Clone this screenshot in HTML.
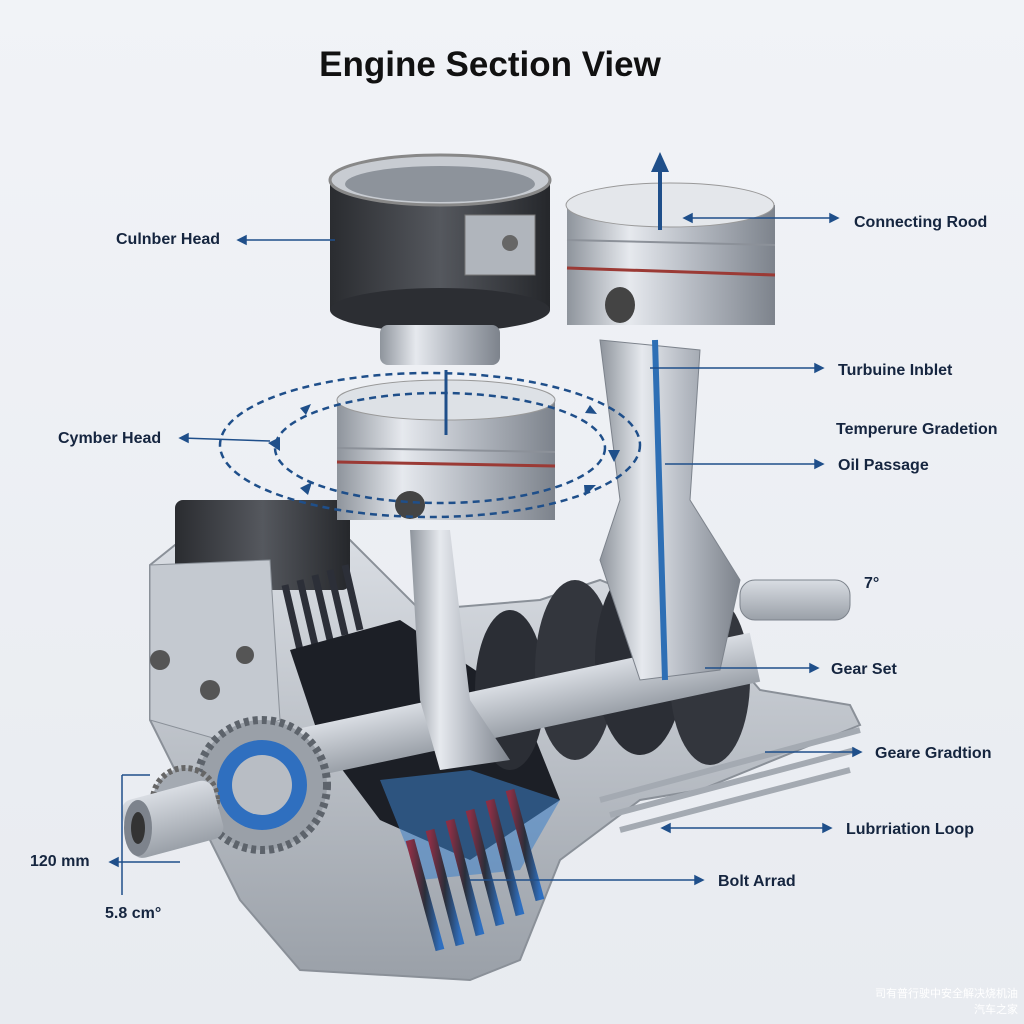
<!DOCTYPE html>
<html><head><meta charset="utf-8"><style>
html,body{margin:0;padding:0;background:#eef0f5;}
svg{display:block}
text{font-family:"Liberation Sans","Noto Sans CJK SC",sans-serif;}
</style></head><body>
<svg width="1024" height="1024" viewBox="0 0 1024 1024" xmlns="http://www.w3.org/2000/svg">
<defs>
<linearGradient id="bg" x1="0" y1="0" x2="0" y2="1"><stop offset="0" stop-color="#f1f3f7"/><stop offset="1" stop-color="#e8ebf0"/></linearGradient>
<linearGradient id="silver" x1="0" y1="0" x2="1" y2="0"><stop offset="0" stop-color="#8e949c"/><stop offset="0.3" stop-color="#e6e9ee"/><stop offset="0.6" stop-color="#b6bbc3"/><stop offset="1" stop-color="#7d838c"/></linearGradient>
<linearGradient id="silverV" x1="0" y1="0" x2="0" y2="1"><stop offset="0" stop-color="#d9dde3"/><stop offset="1" stop-color="#9aa0a8"/></linearGradient>
<linearGradient id="carbon" x1="0" y1="0" x2="1" y2="0"><stop offset="0" stop-color="#2a2c30"/><stop offset="0.5" stop-color="#55585e"/><stop offset="1" stop-color="#25272b"/></linearGradient>
<linearGradient id="fins" x1="0" y1="0" x2="1" y2="0"><stop offset="0" stop-color="#8a2f45"/><stop offset="0.5" stop-color="#2a2f3a"/><stop offset="1" stop-color="#2f6fbf"/></linearGradient>
</defs>
<rect width="1024" height="1024" fill="url(#bg)"/>
<text x="490" y="76" font-size="35" font-weight="bold" text-anchor="middle" fill="#111">Engine Section View</text>

<!-- engine block -->
<polygon points="150,565 175,545 350,540 420,610 540,600 600,580 700,620 760,690 850,705 860,725 700,790 640,800 560,860 520,960 470,980 300,970 240,900 210,840 180,780 150,720" fill="url(#silverV)" stroke="#8a9098" stroke-width="2"/>
<rect x="175" y="500" width="175" height="90" rx="8" fill="url(#carbon)"/>
<polygon points="150,565 270,560 280,720 220,740 150,720" fill="#c4c9d0" stroke="#8a9098"/>
<circle cx="160" cy="660" r="10" fill="#555"/><circle cx="210" cy="690" r="10" fill="#555"/><circle cx="245" cy="655" r="9" fill="#555"/>
<!-- fins top -->
<g stroke="#2c2f38" stroke-width="7"><line x1="285" y1="585" x2="300" y2="650"/><line x1="300" y1="580" x2="315" y2="645"/><line x1="315" y1="575" x2="330" y2="640"/><line x1="330" y1="570" x2="345" y2="635"/><line x1="345" y1="565" x2="360" y2="630"/></g>
<!-- inner cavity -->
<polygon points="290,650 400,620 520,700 560,800 470,860 380,820 320,740" fill="#1c1f26"/>
<polygon points="380,780 470,770 560,800 520,870 420,880" fill="#3d7fc8" opacity="0.55"/>
<!-- bottom fins -->
<g stroke="url(#fins)" stroke-width="9"><line x1="410" y1="840" x2="440" y2="950"/><line x1="430" y1="830" x2="460" y2="945"/><line x1="450" y1="820" x2="480" y2="935"/><line x1="470" y1="810" x2="500" y2="925"/><line x1="490" y1="800" x2="520" y2="915"/><line x1="510" y1="790" x2="540" y2="900"/></g>
<!-- right fins -->
<g stroke="#a4aab2" stroke-width="6"><line x1="600" y1="800" x2="860" y2="730"/><line x1="610" y1="815" x2="855" y2="750"/><line x1="620" y1="830" x2="850" y2="770"/></g>
<!-- crank disks -->
<ellipse cx="510" cy="690" rx="35" ry="80" fill="#2b2e35"/>
<ellipse cx="575" cy="670" rx="40" ry="90" fill="#33363d"/>
<ellipse cx="640" cy="660" rx="45" ry="95" fill="#2b2e35"/>
<ellipse cx="710" cy="680" rx="40" ry="85" fill="#33363d"/>
<rect x="300" y="680" width="460" height="50" fill="url(#silverV)" transform="rotate(-12 530 705)"/>
<!-- right shaft -->
<rect x="740" y="580" width="110" height="40" rx="15" fill="url(#silverV)" stroke="#7d838c"/>
<!-- gear & left shaft -->
<circle cx="262" cy="785" r="65" fill="#9aa0a8" stroke="#5d636b" stroke-width="8" stroke-dasharray="5 4"/>
<circle cx="262" cy="785" r="45" fill="#2f6fbf"/>
<circle cx="262" cy="785" r="30" fill="#b8bdc4"/>
<circle cx="185" cy="800" r="32" fill="#a4aab2" stroke="#666" stroke-width="6" stroke-dasharray="4 3"/>
<rect x="125" y="790" width="95" height="60" rx="12" fill="url(#silverV)" transform="rotate(-15 170 820)"/>
<ellipse cx="138" cy="828" rx="14" ry="28" fill="#7d838c"/>
<ellipse cx="138" cy="828" rx="7" ry="16" fill="#333"/>

<!-- middle con rod -->
<polygon points="410,530 450,530 470,700 510,760 440,770 420,700" fill="url(#silver)"/>
<!-- right con rod -->
<polygon points="600,340 700,350 690,500 740,580 720,670 640,680 600,560 620,500" fill="url(#silver)" stroke="#7d838c"/>
<line x1="655" y1="340" x2="665" y2="680" stroke="#2e6fb5" stroke-width="6"/>

<!-- top left cylinder -->
<rect x="330" y="180" width="220" height="130" fill="url(#carbon)"/>
<ellipse cx="440" cy="310" rx="110" ry="22" fill="#2c2e33"/>
<ellipse cx="440" cy="180" rx="110" ry="25" fill="#c8ccd2" stroke="#888" stroke-width="3"/>
<ellipse cx="440" cy="184" rx="95" ry="18" fill="#8d939b"/>
<rect x="465" y="215" width="70" height="60" fill="#b0b5bc" stroke="#777"/>
<circle cx="510" cy="243" r="8" fill="#666"/>
<rect x="380" y="325" width="120" height="40" rx="8" fill="url(#silver)"/>
<!-- right piston -->
<rect x="567" y="205" width="208" height="120" fill="url(#silver)"/>
<ellipse cx="670" cy="205" rx="104" ry="22" fill="#e4e7eb" stroke="#999"/>
<line x1="567" y1="268" x2="775" y2="275" stroke="#9b3a35" stroke-width="3"/>
<line x1="567" y1="240" x2="775" y2="245" stroke="#8c9199" stroke-width="2"/>
<ellipse cx="620" cy="305" rx="15" ry="18" fill="#444"/>
<!-- middle piston -->
<rect x="337" y="400" width="218" height="120" fill="url(#silver)"/>
<ellipse cx="446" cy="400" rx="109" ry="20" fill="#dde1e6" stroke="#999"/>
<line x1="337" y1="462" x2="555" y2="466" stroke="#9b3a35" stroke-width="3"/>
<line x1="337" y1="448" x2="555" y2="452" stroke="#8c9199" stroke-width="2"/>
<ellipse cx="410" cy="505" rx="15" ry="14" fill="#444"/>
<line x1="446" y1="370" x2="446" y2="435" stroke="#1f4f8a" stroke-width="3"/>

<!-- dashed orbits -->
<ellipse cx="430" cy="445" rx="210" ry="72" fill="none" stroke="#1f4f8a" stroke-width="2.5" stroke-dasharray="7 5"/>
<ellipse cx="440" cy="448" rx="165" ry="55" fill="none" stroke="#1f4f8a" stroke-width="2.5" stroke-dasharray="7 5"/>
<g fill="#1f4f8a"><polygon points="268,443 280,437 280,451"/><polygon points="300,408 311,404 306,415"/><polygon points="300,488 312,482 308,495"/><polygon points="590,405 597,414 585,413"/><polygon points="620,450 614,462 608,450"/><polygon points="596,485 585,496 584,485"/></g>

<!-- up arrow -->
<line x1="660" y1="170" x2="660" y2="230" stroke="#1f4f8a" stroke-width="4"/>
<polygon points="651,172 660,152 669,172" fill="#1f4f8a"/>

<!-- leader lines -->
<g stroke="#1f4f8a" stroke-width="1.5" fill="#1f4f8a">
<line x1="240" y1="240" x2="335" y2="240"/><polygon points="238,240 246,236 246,244"/>
<line x1="182" y1="438" x2="270" y2="441"/><polygon points="180,438 188,434 188,442"/>
<line x1="686" y1="218" x2="835" y2="218"/><polygon points="838,218 830,214 830,222"/><polygon points="684,218 692,214 692,222"/>
<line x1="650" y1="368" x2="820" y2="368"/><polygon points="823,368 815,364 815,372"/>
<line x1="665" y1="464" x2="820" y2="464"/><polygon points="823,464 815,460 815,468"/>
<line x1="705" y1="668" x2="815" y2="668"/><polygon points="818,668 810,664 810,672"/>
<line x1="765" y1="752" x2="858" y2="752"/><polygon points="861,752 853,748 853,756"/>
<line x1="665" y1="828" x2="828" y2="828"/><polygon points="831,828 823,824 823,832"/><polygon points="662,828 670,824 670,832"/>
<line x1="470" y1="880" x2="700" y2="880"/><polygon points="703,880 695,876 695,884"/>
<line x1="112" y1="862" x2="180" y2="862"/><polygon points="110,862 118,858 118,866"/>
<line x1="122" y1="775" x2="122" y2="895"/><line x1="122" y1="775" x2="150" y2="775"/>
</g>
<g font-size="16" font-weight="bold" fill="#15253f">
<text x="116" y="244">Culnber Head</text>
<text x="58" y="443">Cymber Head</text>
<text x="854" y="227">Connecting Rood</text>
<text x="838" y="375">Turbuine Inblet</text>
<text x="836" y="434">Temperure Gradetion</text>
<text x="838" y="470">Oil Passage</text>
<text x="864" y="588">7°</text>
<text x="831" y="674">Gear Set</text>
<text x="875" y="758">Geare Gradtion</text>
<text x="846" y="834">Lubrriation Loop</text>
<text x="718" y="886">Bolt Arrad</text>
<text x="30" y="866">120 mm</text>
<text x="105" y="918">5.8 cm°</text>
</g>
<text x="1018" y="997" font-size="11" fill="#ffffff" text-anchor="end">司有普行驶中安全解决烧机油</text>
<text x="1018" y="1013" font-size="11" fill="#ffffff" text-anchor="end">汽车之家</text>
</svg>
</body></html>
